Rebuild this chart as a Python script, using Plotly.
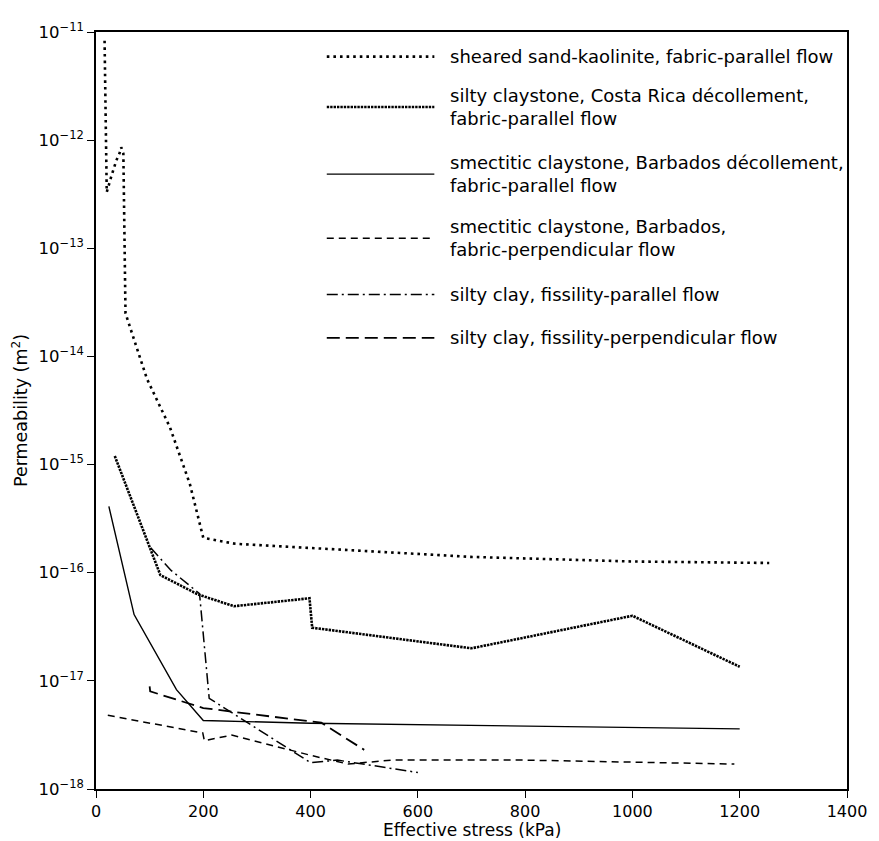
import plotly.graph_objects as go

# ---- data (effective stress in kPa, permeability in m^2) ----
sand_kaol_x = [16, 20, 29, 38, 44, 47, 51, 55, 95, 138, 175, 200, 260, 400, 700, 1000, 1255]
sand_kaol_y = [8.3e-12, 3.3e-13, 4.7e-13, 6.5e-13, 7.6e-13, 8.6e-13, 7.5e-13, 2.5e-14, 6.2e-15,
               2.2e-15, 6.6e-16, 2.1e-16, 1.85e-16, 1.7e-16, 1.4e-16, 1.27e-16, 1.23e-16]

costa_x = [35, 100, 120, 190, 257, 398, 403, 700, 1000, 1200]
costa_y = [1.2e-15, 1.7e-16, 9.5e-17, 6.3e-17, 4.9e-17, 5.8e-17, 3.1e-17, 2.0e-17, 4.0e-17, 1.35e-17]

barb_par_x = [24, 71, 150, 200, 400, 1200]
barb_par_y = [4.1e-16, 4.1e-17, 8.3e-18, 4.3e-18, 4.05e-18, 3.6e-18]

barb_perp_x = [22, 199, 202, 253, 400, 470, 550, 800, 1190]
barb_perp_y = [4.8e-18, 3.3e-18, 2.8e-18, 3.15e-18, 2.05e-18, 1.7e-18, 1.85e-18, 1.85e-18, 1.7e-18]

fiss_par_x = [102, 140, 193, 211, 400, 450, 600]
fiss_par_y = [1.7e-16, 1.05e-16, 6.4e-17, 6.9e-18, 1.75e-18, 1.85e-18, 1.42e-18]

fiss_perp_x = [100, 101, 200, 420, 500]
fiss_perp_y = [8.9e-18, 8.0e-18, 5.6e-18, 4.1e-18, 2.3e-18]

names = [
    "sheared sand-kaolinite, fabric-parallel flow",
    "silty claystone, Costa Rica décollement,<br>fabric-parallel flow",
    "smectitic claystone, Barbados décollement,<br>fabric-parallel flow",
    "smectitic claystone, Barbados,<br>fabric-perpendicular flow",
    "silty clay, fissility-parallel flow",
    "silty clay, fissility-perpendicular flow",
]

x_ticks = [0, 200, 400, 600, 800, 1000, 1200, 1400]
y_tick_exps = [-18, -17, -16, -15, -14, -13, -12, -11]

# ---- styles ----
styles = [
    dict(width=2.6, dash="2.6px,4px"),
    dict(width=2.6, dash="2.4px,1px"),
    dict(width=1.4, dash="solid"),
    dict(width=1.5, dash="7px,5px"),
    dict(width=1.5, dash="11px,4px,2px,4px"),
    dict(width=1.8, dash="13px,6px"),
]

series = [
    (sand_kaol_x, sand_kaol_y),
    (costa_x, costa_y),
    (barb_par_x, barb_par_y),
    (barb_perp_x, barb_perp_y),
    (fiss_par_x, fiss_par_y),
    (fiss_perp_x, fiss_perp_y),
]

FONT = "DejaVu Sans"
fig = go.Figure()
for (xs, ys), st, nm in zip(series, styles, names):
    fig.add_trace(go.Scatter(x=xs, y=ys, mode="lines", name=nm.replace("<br>", " "),
                             line=dict(color="black", width=st["width"], dash=st["dash"]),
                             showlegend=False))

# page geometry (the html body adds an 8px offset)
OFF = 8
PW, PH = 879, 841
FW, FH = PW - OFF, PH - OFF
L, R, T, B = 91, 859, 22, 789          # plot area in page pixels
W, H = R - L, B - T
def px2x(px):
    return (px - L) / W
def py2y(py):
    return (B - py) / H

# ---- manual legend ----
sample_y = [47, 98, 166, 231, 288, 332]
text_y = [47, 98, 166, 231, 288, 332]
for i, st in enumerate(styles):
    fig.add_shape(type="line", xref="paper", yref="paper",
                  x0=px2x(327), x1=px2x(437), y0=py2y(sample_y[i]), y1=py2y(sample_y[i]),
                  line=dict(color="black", width=st["width"], dash=st["dash"]))
    fig.add_annotation(xref="paper", yref="paper", x=px2x(451), y=py2y(text_y[i]),
                       text=names[i], showarrow=False, xanchor="left", yanchor="middle",
                       align="left", font=dict(family=FONT, size=18, color="black"))

# x-axis title as annotation
fig.add_annotation(xref="paper", yref="paper", x=0.5, y=py2y(831),
                   text="Effective stress (kPa)", showarrow=False,
                   xanchor="center", yanchor="middle", borderpad=0,
                   font=dict(family=FONT, size=17, color="black"))

fig.update_layout(
    width=FW, height=FH,
    margin=dict(l=L - OFF, r=FW - (R - OFF), t=T - OFF, b=FH - (B - OFF)),
    paper_bgcolor="white", plot_bgcolor="white",
    font=dict(family=FONT, size=16, color="black"),
    showlegend=False,
)
fig.update_xaxes(
    range=[0, 1400], tickvals=x_ticks, ticktext=[str(v) for v in x_ticks],
    ticks="outside", ticklen=7, tickwidth=1.3, tickcolor="black",
    showline=True, linecolor="black", linewidth=1.5, mirror=True,
    showgrid=False, zeroline=False, ticklabeloverflow="allow",
    tickfont=dict(family=FONT, size=16),
)
fig.update_yaxes(
    type="log", range=[-18, -11],
    tickvals=[10.0 ** e for e in y_tick_exps],
    ticktext=["10<sup>−%d</sup>" % (-e) for e in y_tick_exps],
    ticks="outside", ticklen=7, tickwidth=1.3, tickcolor="black",
    showline=True, linecolor="black", linewidth=1.5, mirror=True,
    showgrid=False, zeroline=False, ticklabeloverflow="allow",
    tickfont=dict(family=FONT, size=16.5),
    title=dict(text="Permeability (m<sup>2</sup>)", font=dict(family=FONT, size=17.5), standoff=6),
)

fig.write_html("out.html")
